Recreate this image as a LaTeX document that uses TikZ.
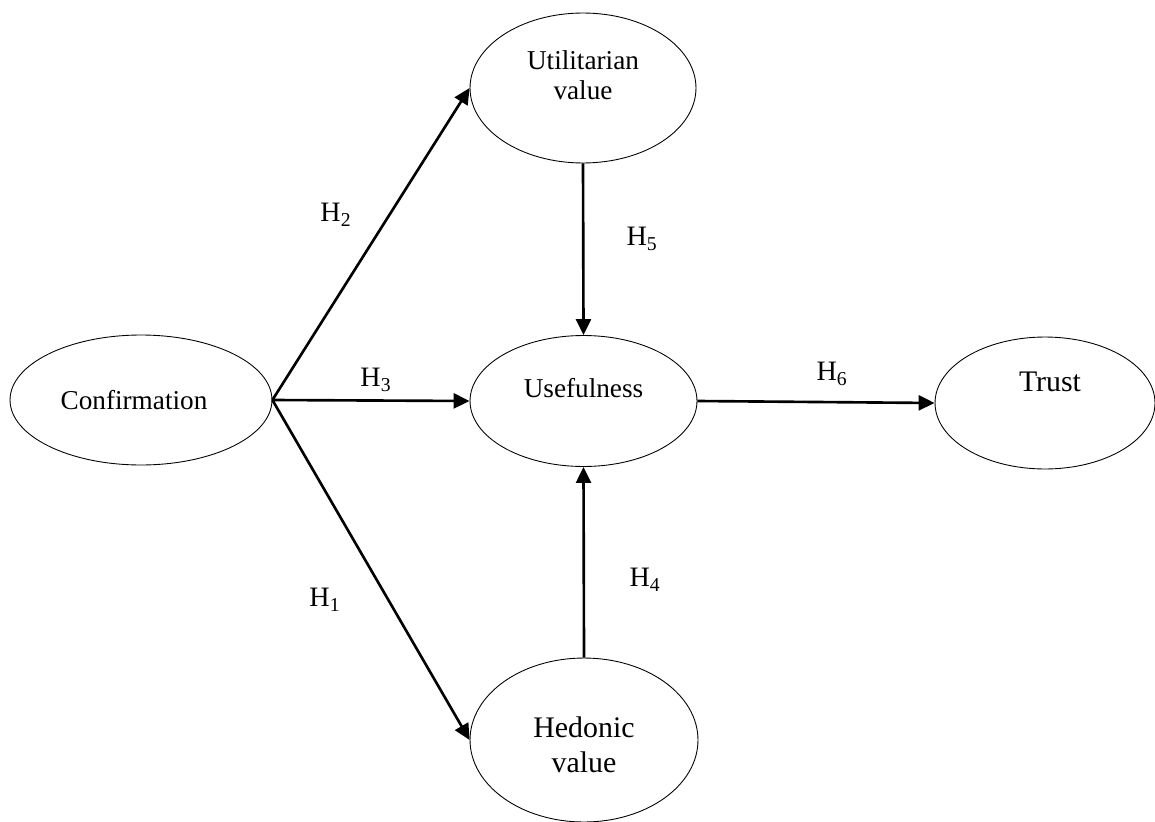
\documentclass[tikz,border=0pt]{standalone}
\usepackage{fontspec}
\setmainfont{Liberation Serif}
\usetikzlibrary{arrows.meta,shapes.geometric}

\begin{document}
\begin{tikzpicture}[
  x=0.02cm, y=-0.02cm, >={Triangle[length=3.2mm, width=3mm]},
  construct/.style={draw, ellipse, line width=0.5pt, inner sep=0pt},
  cname/.style={font=\fontsize{15.5}{17}\selectfont, align=center},
  bigname/.style={font=\fontsize{17}{20}\selectfont, align=center},
  hyp/.style={font=\fontsize{16}{18}\selectfont, inner sep=0pt},
  link/.style={->, line width=1.5pt}
]
\useasboundingbox (0,0) rectangle (1155,821);
\node[construct, minimum width=5.24cm, minimum height=2.6cm,
      label={[cname, xshift=-0.14cm]center:Confirmation}] (conf) at (141,400) {};
\node[construct, minimum width=4.52cm, minimum height=3cm,
      label={[cname, yshift=0.26cm]center:{Utilitarian\\value}}] (util) at (583,88) {};
\node[construct, minimum width=4.54cm, minimum height=2.62cm,
      label={[cname, yshift=0.26cm]center:Usefulness}] (useful) at (583.5,401) {};
\node[construct, minimum width=4.4cm, minimum height=2.64cm,
      label={[bigname, xshift=0.1cm, yshift=0.42cm]center:Trust}] (trust) at (1045,403) {};
\node[construct, minimum width=4.56cm, minimum height=3.28cm,
      label={[bigname, yshift=-0.1cm]center:{Hedonic\\value}}] (hedonic) at (584,740) {};
\node[hyp] (h1) at (325,600) {H\textsubscript{1}};
\node[hyp] (h2) at (336,215) {H\textsubscript{2}};
\node[hyp] (h3) at (376,380) {H\textsubscript{3}};
\node[hyp] (h4) at (645,580) {H\textsubscript{4}};
\node[hyp] (h5) at (642,239) {H\textsubscript{5}};
\node[hyp] (h6) at (832,374) {H\textsubscript{6}};
\draw[link] (conf.east) -- (util.west);
\draw[link] (conf.east) -- (useful.west);
\draw[link] (conf.east) -- (hedonic.west);
\draw[link] (util.south) -- (useful.north);
\draw[link] (hedonic.north) -- (useful.south);
\draw[link] (useful.east) -- (trust.west);
\end{tikzpicture}
\end{document}
